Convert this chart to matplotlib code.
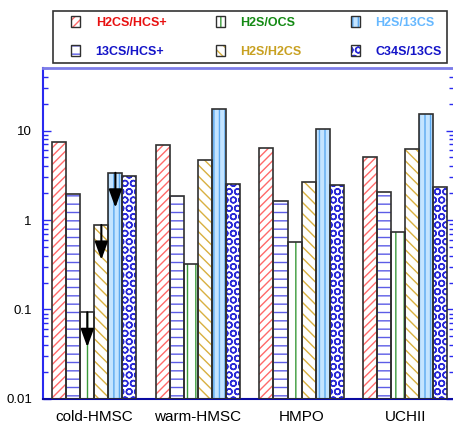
import matplotlib.pyplot as plt
import numpy as np
from matplotlib.legend_handler import HandlerPatch
from matplotlib.patches import Patch, Rectangle

plt.rcParams["font.family"] = ["Liberation Sans", "DejaVu Sans"]
plt.rcParams["hatch.linewidth"] = 1.0

sources = ["cold-HMSC", "warm-HMSC", "HMPO", "UCHII"]
ratio_names = ["H2CS/HCS+", "13CS/HCS+", "H2S/OCS", "H2S/H2CS", "H2S/13CS", "C34S/13CS"]

h2cs_hcs = [7.54, 6.98, 6.40, 5.08]
c13s_hcs = [1.93, 1.85, 1.64, 2.07]
h2s_ocs = [0.093, 0.32, 0.573, 0.74]
h2s_h2cs = [0.88, 4.67, 2.67, 6.24]
h2s_13cs = [3.37, 17.6, 10.5, 15.2]
c34s_13cs = [3.07, 2.50, 2.48, 2.35]

# (ratio index, source index) pairs that are upper limits
upper_limits = [(2, 0), (3, 0), (4, 0)]

series = [h2cs_hcs, c13s_hcs, h2s_ocs, h2s_h2cs, h2s_13cs, c34s_13cs]
hatches = ["////", "--", "||", "\\\\\\", "|||", "OO"]
hatch_colors = ["#ff6a6a", "#5c5ce6", "#3a9a3a", "#d8b040", "#5aa8f0", "#2a2ad8"]
face_colors = ["white", "white", "white", "white", "#c4e4ff", "white"]
text_colors = ["#e81010", "#1414c8", "#148a14", "#c8a020", "#66b8ff", "#1414c8"]


def small_square(legend, orig_handle, xdescent, ydescent, width, height, fontsize):
    # square swatch sitting at the right end of the handle box
    side = 6.5
    return Rectangle((width - side - xdescent, height / 2 - side / 2 - ydescent - 0.5),
                     side, side + 1)


fig = plt.figure(figsize=(4.53, 4.28), dpi=100)
ax = fig.add_axes([0.095, 0.068, 0.907, 0.773])

x = np.arange(len(sources))
width = 0.1355
offsets = (np.arange(len(series)) - 2.5) * width
floor = 0.01

for values, off, hatch, hc, fc in zip(series, offsets, hatches, hatch_colors, face_colors):
    heights = np.array(values) - floor
    ax.bar(x + off, heights, width, bottom=floor, color=fc, edgecolor=hc,
           hatch=hatch, linewidth=0, zorder=2)
    ax.bar(x + off, heights, width, bottom=floor, fill=False,
           edgecolor="#303030", linewidth=1.2, zorder=3)

for r, s in upper_limits:
    v = series[r][s]
    ax.annotate("", xy=(x[s] + offsets[r], v / 2.45), xytext=(x[s] + offsets[r], v),
                arrowprops=dict(arrowstyle="-|>,head_length=0.55,head_width=0.2",
                                mutation_scale=20, color="black", lw=1.5,
                                shrinkA=0, shrinkB=0),
                zorder=4)

ax.set_yscale("log")
ax.set_ylim(0.01, 50)
ax.set_xlim(-0.495, 3.47)
ax.set_xticks(x)
ax.set_xticklabels(sources, fontsize=11)
ax.tick_params(axis="x", length=0, pad=8)
ax.set_yticks([0.01, 0.1, 1, 10])
ax.set_yticklabels(["0.01", "0.1", "1", "10"], fontsize=9.5)
ax.tick_params(axis="y", which="major", direction="in", length=6, width=1,
               color="#2a2af0", right=True, pad=8)
ax.tick_params(axis="y", which="minor", direction="in", length=3.5, width=1,
               color="#2a2af0", right=True)

ax.spines["left"].set_color("#2a2af0")
ax.spines["left"].set_linewidth(1.5)
ax.spines["right"].set_color("#2a2af0")
ax.spines["top"].set_color("#7c7ce8")
ax.spines["top"].set_linewidth(2)
ax.spines["bottom"].set_color("#0a0aa0")
ax.spines["bottom"].set_linewidth(1.5)

handles = [(Patch(facecolor=fc, edgecolor=hc, hatch=h, linewidth=0),
            Patch(fill=False, edgecolor="#303030", linewidth=1.0))
           for h, hc, fc in zip(hatches, hatch_colors, face_colors)]
leg = fig.legend(handles, ratio_names, ncol=3, loc="upper left",
                 bbox_to_anchor=(53 / 453, 1 - 61 / 428, 394 / 453, 50 / 428),
                 mode="expand", prop={"weight": "bold", "size": 9},
                 handler_map={Patch: HandlerPatch(patch_func=small_square)},
                 frameon=True, fancybox=False, edgecolor="black",
                 handlelength=1.75, handleheight=0.9, handletextpad=1.25,
                 columnspacing=2, borderpad=0.42, labelspacing=1.32,
                 borderaxespad=0)
leg.get_frame().set_linewidth(1.2)
for text, c in zip(leg.get_texts(), text_colors):
    text.set_color(c)

fig.savefig("out.png", dpi=100)
